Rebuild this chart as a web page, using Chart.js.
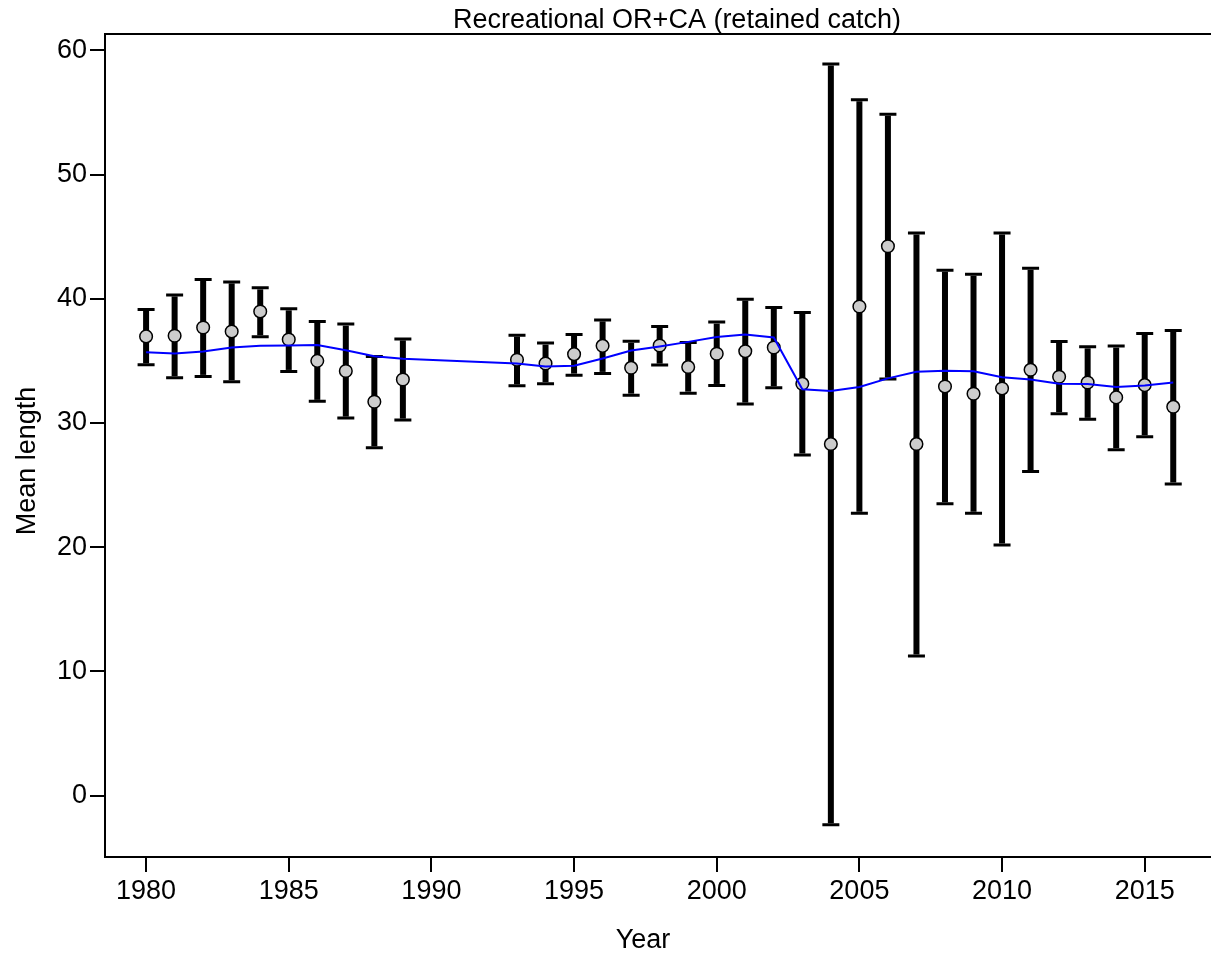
<!DOCTYPE html>
<html>
<head>
<meta charset="utf-8">
<title>Recreational OR+CA (retained catch)</title>
<script src="https://cdn.jsdelivr.net/npm/chart.js@4.4.1/dist/chart.umd.min.js"></script>
<style>
  body { margin: 0; background: #fff; }
  #wrap { width: 1211px; height: 953px; position: relative; }
</style>
</head>
<body>
<div id="wrap"><canvas id="chLen"></canvas></div>
<script>
// mean length by year, observed with intervals, plus expected
var years = [1980, 1981, 1982, 1983, 1984, 1985, 1986, 1987, 1988, 1989,
  1993, 1994, 1995, 1996, 1997, 1998, 1999, 2000, 2001, 2002, 2003, 2004,
  2005, 2006, 2007, 2008, 2009, 2010, 2011, 2012, 2013, 2014, 2015, 2016];
var obsLen = [36.97, 37.02, 37.69, 37.37, 38.98, 36.72, 35.0, 34.18, 31.71, 33.5,
  35.09, 34.79, 35.54, 36.21, 34.44, 36.24, 34.5, 35.57, 35.78, 36.08, 33.15, 28.3,
  39.38, 44.23, 28.3, 32.94, 32.35, 32.78, 34.28, 33.72, 33.26, 32.06, 33.05, 31.3];
var upperLen = [39.14, 40.31, 41.55, 41.36, 40.88, 39.19, 38.17, 37.96, 35.36, 36.77,
  37.07, 36.43, 37.13, 38.3, 36.57, 37.77, 36.48, 38.12, 39.97, 39.3, 38.9, 58.9,
  56.03, 54.85, 45.3, 42.3, 41.98, 45.3, 42.46, 36.56, 36.13, 36.19, 37.21, 37.45];
var lowerLen = [34.68, 33.64, 33.75, 33.32, 36.94, 34.15, 31.74, 30.39, 28.0, 30.23,
  32.99, 33.16, 33.85, 33.99, 32.24, 34.66, 32.4, 33.02, 31.52, 32.83, 27.42, -2.36,
  22.73, 33.53, 11.23, 23.5, 22.73, 20.18, 26.1, 30.74, 30.29, 27.85, 28.89, 25.08];
var expLen = [35.7, 35.6, 35.76, 36.08, 36.21, 36.24, 36.27, 35.86, 35.38, 35.17,
  34.79, 34.55, 34.6, 35.19, 35.84, 36.16, 36.53, 36.93, 37.13, 36.89, 32.72, 32.57,
  32.89, 33.59, 34.12, 34.2, 34.17, 33.69, 33.5, 33.15, 33.13, 32.89, 33.02, 33.26];

var titleText = 'Recreational OR+CA (retained catch)';
var xTitle = 'Year';
var yTitle = 'Mean length';

var fontFam = '"Liberation Sans", Arial, sans-serif';

var obsPts = years.map(function (y, i) { return { x: y, y: obsLen[i] }; });
var expPts = years.map(function (y, i) { return { x: y, y: expLen[i] }; });

// whiskers under the points
var errBars = {
  id: 'errBars',
  beforeDatasetsDraw: function (chart) {
    var ctx = chart.ctx, xs = chart.scales.x, ys = chart.scales.y;
    ctx.save();
    ctx.strokeStyle = '#000';
    years.forEach(function (yr, i) {
      var px = xs.getPixelForValue(yr);
      var top = ys.getPixelForValue(upperLen[i]);
      var bot = ys.getPixelForValue(lowerLen[i]);
      ctx.lineWidth = 6;
      ctx.lineCap = 'butt';
      ctx.beginPath();
      ctx.moveTo(px, top + 1.5);
      ctx.lineTo(px, bot - 1.5);
      ctx.stroke();
      ctx.lineWidth = 3;
      ctx.beginPath();
      ctx.moveTo(px - 8.5, top); ctx.lineTo(px + 8.5, top);
      ctx.moveTo(px - 8.5, bot); ctx.lineTo(px + 8.5, bot);
      ctx.stroke();
    });
    ctx.restore();
  }
};

// box edges (they run off the right side of the picture) and free text
var frameText = {
  id: 'frameText',
  afterDraw: function (chart) {
    var ctx = chart.ctx, a = chart.chartArea;
    ctx.save();
    ctx.fillStyle = '#fff';
    ctx.fillRect(a.right - 2, a.bottom + 2, chart.width - a.right + 2, 20);
    ctx.strokeStyle = '#000';
    ctx.lineWidth = 2;
    ctx.beginPath();
    ctx.moveTo(a.left, a.top);
    ctx.lineTo(chart.width, a.top);
    ctx.moveTo(a.left, a.bottom);
    ctx.lineTo(chart.width, a.bottom);
    ctx.stroke();

    ctx.fillStyle = '#000';
    ctx.font = '27px ' + fontFam;
    ctx.textAlign = 'center';
    ctx.textBaseline = 'alphabetic';
    ctx.fillText(titleText, 677, 28);
    ctx.fillText(xTitle, 643, 948);
    ctx.translate(35, 461);
    ctx.rotate(-Math.PI / 2);
    ctx.fillText(yTitle, 0, 0);
    ctx.restore();
  }
};

new Chart(document.getElementById('chLen'), {
  type: 'scatter',
  data: {
    datasets: [
      {
        type: 'line',
        data: expPts,
        borderColor: '#0000ff',
        borderWidth: 2,
        pointRadius: 0,
        tension: 0,
        fill: false,
        order: 0
      },
      {
        data: obsPts,
        backgroundColor: '#cccccc',
        borderColor: '#000',
        borderWidth: 1.5,
        pointRadius: 6.3,
        order: 1
      }
    ]
  },
  options: {
    responsive: true,
    maintainAspectRatio: false,
    animation: false,
    layout: { padding: { top: 34, right: 0, left: 0, bottom: 0 } },
    plugins: {
      legend: { display: false },
      tooltip: { enabled: false },
      title: { display: false }
    },
    scales: {
      x: {
        type: 'linear',
        min: 1978.56,
        max: 2017.05,
        afterFit: function (s) { s.height = 96; },
        grid: { drawOnChartArea: false, drawTicks: true, tickLength: 15, color: '#000', lineWidth: 2 },
        border: { display: true, color: '#000', width: 2 },
        ticks: {
          stepSize: 5,
          includeBounds: false,
          color: '#000',
          padding: 3,
          maxRotation: 0,
          font: { family: fontFam, size: 27 },
          callback: function (v) { return String(v); }
        }
      },
      y: {
        min: -4.95,
        max: 61.32,
        afterFit: function (s) { s.width = 105; },
        grid: { drawOnChartArea: false, drawTicks: true, tickLength: 15, color: '#000', lineWidth: 2 },
        border: { display: true, color: '#000', width: 2 },
        ticks: {
          stepSize: 10,
          includeBounds: false,
          color: '#000',
          padding: 3,
          font: { family: fontFam, size: 27 }
        }
      }
    }
  },
  plugins: [errBars, frameText]
});
</script>
</body>
</html>
